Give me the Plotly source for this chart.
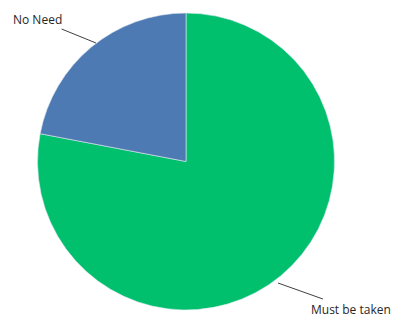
import plotly.graph_objects as go

labels = ["Must be taken", "No Need"]
values = [78, 22]
colors = ["#00C06E", "#4E7AB4"]

W, H = 393, 324

fig = go.Figure(go.Pie(
    labels=labels,
    values=values,
    sort=False,
    direction="clockwise",
    rotation=0,
    marker=dict(colors=colors, line=dict(color="#dfe8f2", width=0.6)),
    textinfo="none",
    hoverinfo="label+percent",
    domain=dict(x=[(186 - 148.5) / W, (186 + 148.5) / W],
                y=[(H - 161.5 - 148.5) / H, (H - 161.5 + 148.5) / H]),
    showlegend=False,
))

font = dict(family="Open Sans", size=12, color="#262626")
fig.add_annotation(x=96 / W, y=1 - 43 / H, xref="paper", yref="paper",
                   text="No Need", showarrow=True, arrowhead=0, arrowwidth=1,
                   arrowcolor="#404040", ax=37 - 96, ay=19 - 43, font=font)
fig.add_annotation(x=278 / W, y=1 - 283 / H, xref="paper", yref="paper",
                   text="Must be taken", showarrow=True, arrowhead=0, arrowwidth=1,
                   arrowcolor="#404040", ax=351 - 278, ay=309 - 283, font=font)

fig.update_layout(width=W, height=H, margin=dict(l=0, r=0, t=0, b=0),
                  paper_bgcolor="white", plot_bgcolor="white")
fig.write_html("out.html", config={"displayModeBar": False},
               post_script="document.body.style.margin='0';document.body.style.overflow='hidden';")
